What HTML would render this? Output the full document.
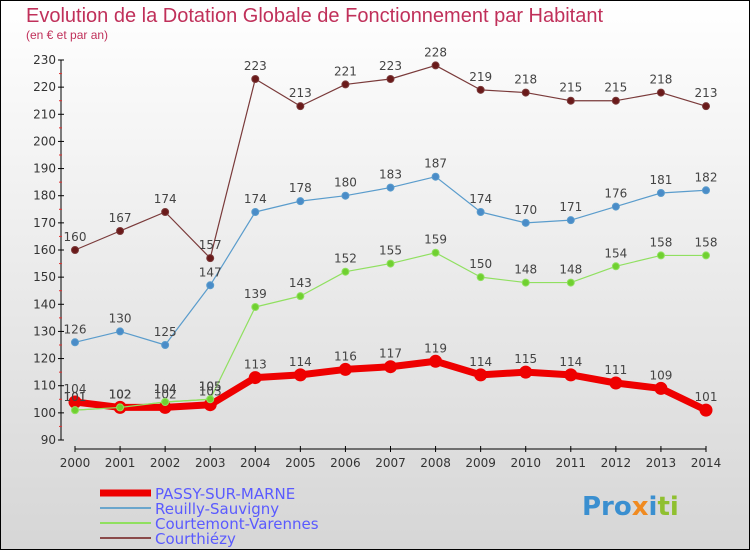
<!DOCTYPE html>
<html><head><meta charset="utf-8"><style>
body{margin:0}
svg{display:block;font-family:"DejaVu Sans","Liberation Sans",sans-serif}
</style></head><body>
<svg id="c" width="750" height="550">
<defs><linearGradient id="bg" x1="0" y1="0" x2="0" y2="1"><stop offset="0" stop-color="#ffffff"/><stop offset="1" stop-color="#d6d6d6"/></linearGradient></defs>
<rect x="0.5" y="0.5" width="749" height="549" fill="url(#bg)" stroke="#000"/>
<text x="26" y="22" font-size="20" fill="#c0305a" style="font-family:'Liberation Sans',sans-serif">Evolution de la Dotation Globale de Fonctionnement par Habitant</text>
<text x="26" y="39" font-size="12" fill="#c0305a" style="font-family:'Liberation Sans',sans-serif">(en € et par an)</text>
<g id="axes"></g><g id="series"></g>
<g>
<line x1="100" y1="493" x2="151" y2="493" stroke="#ee0000" stroke-width="7"/>
<text x="155" y="499" font-size="15" fill="#5a5aff">PASSY-SUR-MARNE</text>
<line x1="100" y1="508" x2="151" y2="508" stroke="#6aa6cc" stroke-width="2"/>
<text x="155" y="514" font-size="15" fill="#5a5aff">Reuilly-Sauvigny</text>
<line x1="100" y1="523" x2="151" y2="523" stroke="#90e060" stroke-width="2"/>
<text x="155" y="529" font-size="15" fill="#5a5aff">Courtemont-Varennes</text>
<line x1="100" y1="538" x2="151" y2="538" stroke="#8a4a4a" stroke-width="2"/>
<text x="155" y="544" font-size="15" fill="#5a5aff">Courthiézy</text>
</g>
<text x="582" y="515" font-size="26" font-weight="bold"><tspan fill="#3a8fd0">Pro</tspan><tspan fill="#f08a20">x</tspan><tspan fill="#3a8fd0">i</tspan><tspan fill="#90c030">ti</tspan></text>
</svg>
<script>
const years=[2000,2001,2002,2003,2004,2005,2006,2007,2008,2009,2010,2011,2012,2013,2014];
const yTicks=[90,100,110,120,130,140,150,160,170,180,190,200,210,220,230];
const passy=[104,102,102,103,113,114,116,117,119,114,115,114,111,109,101];
const reuilly=[126,130,125,147,174,178,180,183,187,174,170,171,176,181,182];
const courtemont=[101,102,104,105,139,143,152,155,159,150,148,148,154,158,158];
const courthiezy=[160,167,174,157,223,213,221,223,228,219,218,215,215,218,213];
const NS="http://www.w3.org/2000/svg";
const X=i=>75+i*(706-75)/(years.length-1);
const Y=v=>440-(v-90)*(380/140);
function mk(t,a,p){const e=document.createElementNS(NS,t);for(const k in a)e.setAttribute(k,a[k]);p.appendChild(e);return e;}
const ax=document.getElementById('axes');
const yl=mk('line',{x1:61,y1:Y(230),x2:61,y2:Y(90),stroke:'#000'},ax);


yTicks.forEach(v=>{mk('line',{x1:58,y1:Y(v),x2:64,y2:Y(v),stroke:'#000'},ax);
 if(v<230)mk('line',{x1:59,y1:Y(v+5),x2:62,y2:Y(v+5),stroke:'#e03030'},ax);
 const t=mk('text',{x:56,y:Y(v)+4,'font-size':12,fill:'#333','text-anchor':'end'},ax);t.textContent=v;
 
 });
const xl=mk('line',{x1:X(0),y1:449,x2:X(14),y2:449,stroke:'#000'},ax);


years.forEach((y,i)=>{mk('line',{x1:X(i),y1:446,x2:X(i),y2:452,stroke:'#000'},ax);
 const t=mk('text',{x:X(i),y:467,'font-size':12,fill:'#333','text-anchor':'middle'},ax);t.textContent=y;
 
 });
const sg=document.getElementById('series');
function draw(vals,name,col,dot,w,r){
 const g=mk('g',{},sg);
 
 
 mk('polyline',{points:vals.map((v,i)=>X(i)+','+Y(v)).join(' '),fill:'none',stroke:col,'stroke-width':w,'stroke-linejoin':'round'},g);
 vals.forEach((v,i)=>{const c=mk('circle',{cx:X(i),cy:Y(v),r:r,fill:dot,stroke:col,'stroke-width':1},g);
  
  
  const t=mk('text',{x:X(i),y:Y(v)-9,'font-size':12,fill:'#444','text-anchor':'middle'},g);t.textContent=v;
  
  });
}
draw(courthiezy,'courthiezy','#7a3a3a','#6a1a1a',1.2,3.5);
draw(reuilly,'reuilly','#5a9ccc','#4a8cc8',1.2,3.5);
draw(courtemont,'courtemont','#90e060','#70d030',1.2,3.5);
draw(passy,'passy','#ee0000','#ee0000',7,6);
draw(courtemont.slice(0,4),'courtemont-early','#90e060','#70d030',1.2,3.5);
</script>
</body></html>
